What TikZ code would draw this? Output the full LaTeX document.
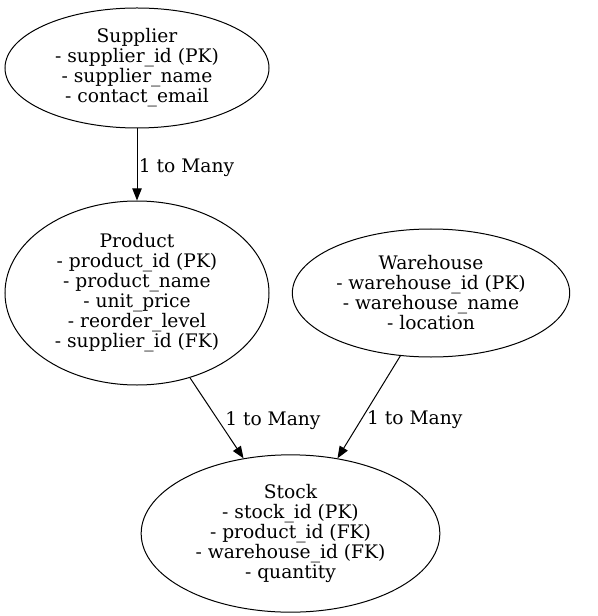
\documentclass[tikz,border=0pt]{standalone}
\usepackage{fontspec}
\setmainfont{DejaVu Serif}
\usepackage{tikz}
\usetikzlibrary{shapes.geometric}
\usetikzlibrary{positioning, arrows.meta}

\begin{document}
\begin{tikzpicture}[x=0.75pt, y=-0.75pt,
        entity/.style={ellipse, draw, line width=0.75pt, inner sep=0pt, align=center, font=\fontsize{14}{15}\selectfont},
        rel/.style={-{Triangle[length=9pt, width=7pt]}, line width=0.75pt},
        card/.style={anchor=west, inner sep=0pt, font=\fontsize{14}{15}\selectfont}]
        \useasboundingbox (0,0) rectangle (597,616);

        \node[entity, minimum width=198pt, minimum height=90pt] (supplier) at (137,68)
            {Supplier\\- supplier\_id (PK)\\- supplier\_name\\- contact\_email};
        \node[entity, minimum width=198pt, minimum height=138pt] (product) at (137,293)
            {Product\\- product\_id (PK)\\- product\_name\\- unit\_price\\- reorder\_level\\- supplier\_id (FK)};
        \node[entity, minimum width=208pt, minimum height=96pt] (warehouse) at (431,293)
            {Warehouse\\- warehouse\_id (PK)\\- warehouse\_name\\- location};
        \node[entity, minimum width=224pt, minimum height=118pt] (stock) at (290.5,533.5)
            {Stock\\- stock\_id (PK)\\- product\_id (FK)\\- warehouse\_id (FK)\\- quantity};

        % Relations
        \draw[rel] (supplier) -- node[card, pos=0.5, xshift=1pt, yshift=-2pt] {1 to Many} (product);
        \draw[rel] (product.302.7) -- node[card, pos=0.5, xshift=6pt, yshift=-2pt] {1 to Many} (stock.122.1);
        \draw[rel] (warehouse.244.7) -- node[card, pos=0.6, xshift=3pt, yshift=-2pt] {1 to Many} (stock.58.5);
    \end{tikzpicture}
\end{document}
